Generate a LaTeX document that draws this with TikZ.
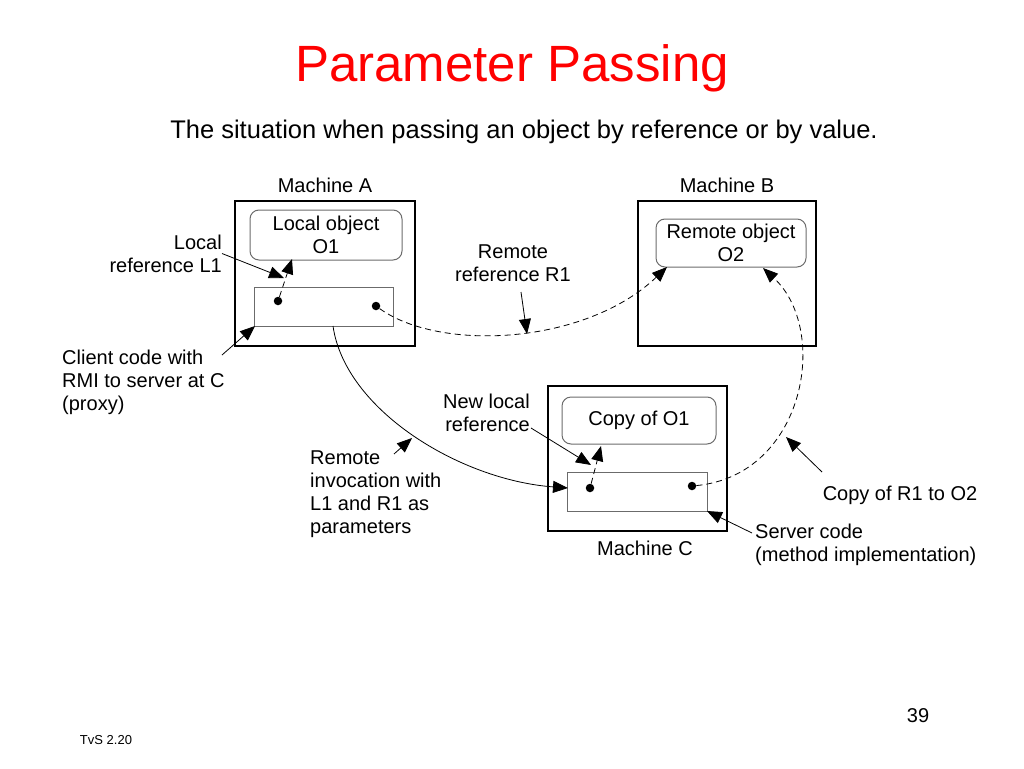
\documentclass[tikz,border=0pt]{standalone}
\usepackage{fontspec}
\setmainfont{Liberation Sans}
\usepackage{xcolor}
\usetikzlibrary{arrows.meta}
\definecolor{titlered}{rgb}{1,0,0}
\definecolor{boxgray}{rgb}{0.42,0.42,0.42}

\begin{document}
\begin{tikzpicture}[x=1pt, y=-1pt,
  lbl/.style={inner sep=0pt, font=\fontsize{20}{23}\selectfont},
  machine/.style={draw, line width=2.6pt},
  obj/.style={draw=boxgray, line width=1pt, rounded corners=9pt, align=center, font=\fontsize{20}{23}\selectfont},
  code/.style={draw=boxgray, line width=1pt},
  dot/.style={circle, fill, inner sep=0pt, minimum size=8.5pt},
  ptr/.style={line width=0.8pt, -{Triangle[length=15pt,width=12pt]}},
  ref/.style={line width=0.8pt, dash pattern=on 6pt off 4pt, -{Triangle[length=15pt,width=12pt]}}]

\useasboundingbox (0,0) rectangle (1024,768);

% headings
\node (title) at (512,68) [text=titlered, font=\fontsize{51}{60}\selectfont]{Parameter Passing};
\node (subtitle) at (524,132) [font=\fontsize{25.5}{30}\selectfont]{The situation when passing an object by reference or by value.};

% machine A
\node (machA) at (325,273.5) [machine, minimum width=180pt, minimum height=145pt]{};
\node (machAlbl) at (325,185) [lbl]{Machine A};
\node (objO1) at (326,235) [obj, minimum width=152pt, minimum height=50pt]{Local object\\O1};
\node (client) at (323.5,306.5) [code, minimum width=139pt, minimum height=39pt]{};
\node (dotA1) at (278,301) [dot]{};
\node (dotA2) at (376,306) [dot]{};

% machine B
\node (machB) at (727,273.5) [machine, minimum width=178pt, minimum height=145pt]{};
\node (machBlbl) at (727,185) [lbl]{Machine B};
\node (objO2) at (731,243) [obj, minimum width=150pt, minimum height=48pt]{Remote object\\O2};

% machine C
\node (machC) at (637.5,458.5) [machine, minimum width=179pt, minimum height=145pt]{};
\node (machClbl) at (645,548) [lbl]{Machine C};
\node (copyO1) at (639,420.5) [obj, minimum width=154pt, minimum height=47pt]{Copy of O1};
\node (server) at (637,491.5) [code, minimum width=140pt, minimum height=39pt]{};
\node (dotC1) at (590,488) [dot]{};
\node (dotC2) at (692,486) [dot]{};

% labels
\node (lblL1) at (222,253.5) [lbl, anchor=east, align=right]{Local\\reference L1};
\node (lblClient) at (62,382) [lbl, anchor=west, align=left]{Client code with\\RMI to server at C\\(proxy)};
\node (lblR1) at (513,263) [lbl, align=center]{Remote\\reference R1};
\node (lblNew) at (530,413) [lbl, anchor=east, align=right]{New local\\reference};
\node (lblInvoke) at (310,494) [lbl, anchor=west, align=left]{Remote\\invocation with\\L1 and R1 as\\parameters};
\node (lblCopy) at (900,495) [lbl]{Copy of R1 to O2};
\node (lblServer) at (755,545) [lbl, anchor=west, align=left]{Server code\\(method implementation)};

% points the pointers start from or end at
\coordinate (tipL1) at (284,278);
\coordinate (inO1) at (292,259);
\coordinate (tailClient) at (222,355);
\coordinate (tipClient) at (255,326);
\coordinate (tailR1) at (521,292);
\coordinate (tipR1) at (527,334);
\coordinate (inO2a) at (667,267);
\coordinate (inO2b) at (763,268);
\coordinate (outClient) at (333,326);
\coordinate (inServer) at (568,488);
\coordinate (tailInvoke) at (394,454);
\coordinate (tipInvoke) at (412,438);
\coordinate (tailNew) at (531,428);
\coordinate (tipNew) at (591,465);
\coordinate (inCopy) at (601,446);
\coordinate (tailCopy) at (822,472);
\coordinate (tipCopy) at (786,437);
\coordinate (tailServer) at (752,533);
\coordinate (tipServer) at (707,511);

% connectors
\draw[ptr] (lblL1.east) -- (tipL1);
\draw[ref] (dotA1) -- (inO1);
\draw[ptr] (tailClient) -- (tipClient);
\draw[ptr] (tailR1) -- (tipR1);
\draw[ref] (dotA2) .. controls (440,352) and (585,345) .. (inO2a);
\draw[ptr] (outClient) .. controls (345,410) and (460,480) .. (inServer);
\draw[ptr] (tailInvoke) -- (tipInvoke);
\draw[ptr] (tailNew) -- (tipNew);
\draw[ref] (dotC1) -- (inCopy);
\draw[ref] (dotC2) .. controls (805,475) and (830,330) .. (inO2b);
\draw[ptr] (tailCopy) -- (tipCopy);
\draw[ptr] (tailServer) -- (tipServer);

% footer
\node (footer) at (106,740) [font=\fontsize{13}{15}\selectfont]{TvS 2.20};
\node (pagenum) at (918,716) [font=\fontsize{20}{23}\selectfont]{39};

\end{tikzpicture}
\end{document}
